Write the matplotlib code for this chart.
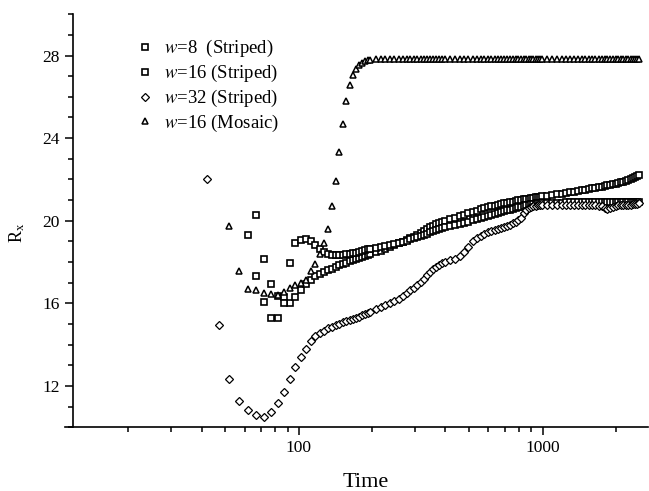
import numpy as np
import matplotlib.pyplot as plt
from matplotlib.ticker import MultipleLocator, LogLocator, NullFormatter, FuncFormatter

plt.rcParams['font.family'] = 'Liberation Serif'
plt.rcParams['mathtext.fontset'] = 'stix'

# sampling times (every 5 early on, then coarser)
time = [42, 47, 52, 57, 62, 67, 72, 77, 82, 87, 92, 97, 102, 107, 112, 117,
        122, 127, 132, 137, 142, 147, 152, 157, 162, 167, 172, 177, 182, 187, 192, 197,
        207, 217, 227, 237, 247, 257, 267, 277, 287, 297, 307, 317, 327, 337, 347, 357,
        367, 377, 387, 397,
        417, 437, 457, 477, 497, 517, 537, 557, 577, 597, 617, 637, 657, 677, 697, 717,
        737, 757, 777, 797, 817, 837, 857, 877, 897, 917, 937, 957, 977, 997,
        1047, 1097, 1147, 1197, 1247, 1297, 1347, 1397, 1447, 1497, 1547, 1597, 1647,
        1697, 1747, 1797, 1847, 1897, 1947, 1997, 2047, 2097, 2147, 2197, 2247, 2297,
        2347, 2397, 2447, 2497]

# w=8 striped, starts at t=62
rx_w8 = [19.32, 20.29, 18.14, 16.95, 16.36, 16.3, 16.0, 16.3, 16.65, 16.95, 17.15, 17.3,
         17.42, 17.52, 17.6, 17.68, 17.76, 17.84, 17.91, 17.97, 18.03, 18.09, 18.15, 18.2,
         18.25, 18.3, 18.35, 18.39,
         18.47, 18.55, 18.63, 18.71, 18.8, 18.9, 18.98, 19.06, 19.14, 19.22, 19.32, 19.42,
         19.52, 19.6, 19.68, 19.75, 19.82, 19.88, 19.93, 19.98,
         20.06, 20.14, 20.22, 20.3, 20.37, 20.43, 20.49, 20.55, 20.6, 20.65, 20.69, 20.73,
         20.77, 20.8, 20.84, 20.87, 20.9, 20.93, 20.96, 20.99, 21.01, 21.03, 21.05, 21.07,
         21.09, 21.11, 21.13, 21.15, 21.17, 21.19,
         21.22, 21.25, 21.28, 21.31, 21.34, 21.37, 21.41, 21.44, 21.47, 21.5, 21.53, 21.56,
         21.59, 21.62, 21.65, 21.68, 21.71, 21.74, 21.77, 21.8, 21.83, 21.86, 21.89, 21.92,
         21.96, 22.0, 22.05, 22.1, 22.15, 22.2]

# w=16 striped, starts at t=67
rx_w16 = [17.3, 16.06, 15.28, 15.28, 16.0, 17.95, 18.9, 19.08, 19.1, 19.0, 18.82, 18.62,
          18.47, 18.38, 18.34, 18.33, 18.34, 18.35, 18.37, 18.4, 18.43, 18.46, 18.5, 18.54,
          18.58, 18.61, 18.64,
          18.69, 18.74, 18.79, 18.84, 18.89, 18.94, 18.99, 19.04, 19.09, 19.14, 19.2, 19.26,
          19.32, 19.38, 19.44, 19.5, 19.55, 19.6, 19.64, 19.68,
          19.72, 19.78, 19.84, 19.9, 19.96, 20.02, 20.07, 20.12, 20.17, 20.22, 20.27, 20.32,
          20.37, 20.42, 20.46, 20.5, 20.54, 20.58, 20.62, 20.65, 20.68, 20.71, 20.74, 20.77,
          20.79, 20.81, 20.83, 20.84, 20.85, 20.86,
          20.87, 20.87, 20.88, 20.88, 20.89, 20.89, 20.89, 20.9, 20.9, 20.9, 20.9, 20.91,
          20.91, 20.91, 20.91, 20.91, 20.92, 20.92, 20.92, 20.92, 20.92, 20.92, 20.92, 20.93,
          20.93, 20.93, 20.93, 20.93, 20.93, 20.93]

# w=32 striped, starts at t=42
rx_w32 = [22.04, 14.96, 12.34, 11.27, 10.83, 10.6, 10.5, 10.75, 11.17, 11.72, 12.34, 12.93,
          13.39, 13.8, 14.15, 14.4, 14.55, 14.68, 14.78, 14.87, 14.95, 15.02, 15.08, 15.13,
          15.18, 15.23, 15.29, 15.35, 15.42, 15.48, 15.54, 15.6,
          15.71, 15.82, 15.92, 16.02, 16.12, 16.22, 16.34, 16.48, 16.62, 16.76, 16.9, 17.04,
          17.2, 17.36, 17.52, 17.66, 17.78, 17.87, 17.94, 18.0,
          18.08, 18.16, 18.3, 18.5, 18.75, 19.0, 19.15, 19.27, 19.37, 19.45, 19.52, 19.57,
          19.61, 19.64, 19.68, 19.74, 19.8, 19.87, 19.94, 20.02, 20.15, 20.35, 20.52, 20.62,
          20.68, 20.71, 20.73, 20.74, 20.75, 20.75,
          20.76, 20.76, 20.77, 20.76, 20.75, 20.76, 20.77, 20.76, 20.75, 20.74, 20.75, 20.76,
          20.74, 20.72, 20.7, 20.62, 20.55, 20.6, 20.68, 20.72, 20.74, 20.75, 20.76, 20.77,
          20.77, 20.78, 20.79, 20.8, 20.82, 20.84]

# w=16 mosaic, starts at t=52
rx_mosaic = [19.76, 17.54, 16.7, 16.62, 16.52, 16.46, 16.41, 16.57, 16.74, 16.9, 17.0, 17.15,
             17.55, 17.9, 18.4, 18.92, 19.6, 20.7, 21.9, 23.35, 24.7, 25.8, 26.55, 27.05,
             27.35, 27.55, 27.65, 27.72, 27.76, 27.79,
             27.81, 27.82, 27.83, 27.83, 27.83, 27.83, 27.83, 27.83, 27.83, 27.83, 27.83, 27.83,
             27.83, 27.83, 27.83, 27.83, 27.83, 27.83, 27.83, 27.83,
             27.83, 27.83, 27.83, 27.83, 27.83, 27.83, 27.83, 27.83, 27.83, 27.83, 27.83, 27.83,
             27.83, 27.83, 27.83, 27.83, 27.83, 27.83, 27.83, 27.83, 27.83, 27.83, 27.83, 27.83,
             27.83, 27.83, 27.83, 27.83, 27.83, 27.83,
             27.83, 27.83, 27.83, 27.83, 27.83, 27.83, 27.83, 27.83, 27.83, 27.83, 27.83, 27.83,
             27.83, 27.83, 27.83, 27.83, 27.83, 27.83, 27.83, 27.83, 27.83, 27.83, 27.83, 27.83,
             27.83, 27.83, 27.83, 27.83, 27.83, 27.83]

labels = [r'$w$=8  (Striped)', r'$w$=16 (Striped)', r'$w$=32 (Striped)', r'$w$=16 (Mosaic)']

fig = plt.figure(figsize=(6.49, 4.91), dpi=100)
ax = fig.add_axes([0.100, 0.130, 0.898, 0.841])

common = dict(ls='none', mfc='white', mec='black')
ax.plot(time[-len(rx_w8):], rx_w8, marker='s', ms=4.6, mew=1.2, label=labels[0], **common)
ax.plot(time[-len(rx_w16):], rx_w16, marker='s', ms=3.9, mew=1.2, label=labels[1], **common)
ax.plot(time[-len(rx_w32):], rx_w32, marker='D', ms=3.8, mew=0.9, label=labels[2], **common)
ax.plot(time[-len(rx_mosaic):], rx_mosaic, marker='^', ms=4.5, mew=1.1, label=labels[3], **common)

ax.set_xscale('log')
ax.set_xlim(11, 2700)
ax.set_ylim(10, 30)

ax.spines['top'].set_visible(False)
ax.spines['right'].set_visible(False)
ax.spines['left'].set_position(('data', 11.9))
for s in ['left', 'bottom']:
    ax.spines[s].set_linewidth(1.2)

ax.yaxis.set_major_locator(MultipleLocator(4))
ax.yaxis.set_minor_locator(MultipleLocator(1))
ax.xaxis.set_major_locator(LogLocator(base=10))
ax.xaxis.set_minor_locator(LogLocator(base=10, subs=np.arange(2, 10)))
ax.xaxis.set_minor_formatter(NullFormatter())
ax.xaxis.set_major_formatter(FuncFormatter(lambda v, p: f'{v:g}'))

ax.tick_params(which='major', direction='out', length=6, width=1.1, labelsize=12.5)
ax.tick_params(which='minor', direction='out', length=3.5, width=1.1)

ax.set_xlabel('Time', fontsize=16)
ax.set_ylabel(r'R$_\mathregular{x}$', fontsize=13)
ax.xaxis.set_label_coords(0.516, -0.11)
ax.yaxis.set_label_coords(-0.065, 0.47)

ax.legend(loc='upper left', bbox_to_anchor=(0.109, 0.96), frameon=False, fontsize=13.5,
          handlelength=1.0, handletextpad=0.5, labelspacing=0.2, borderaxespad=0)

fig.savefig('out.png', dpi=100)
